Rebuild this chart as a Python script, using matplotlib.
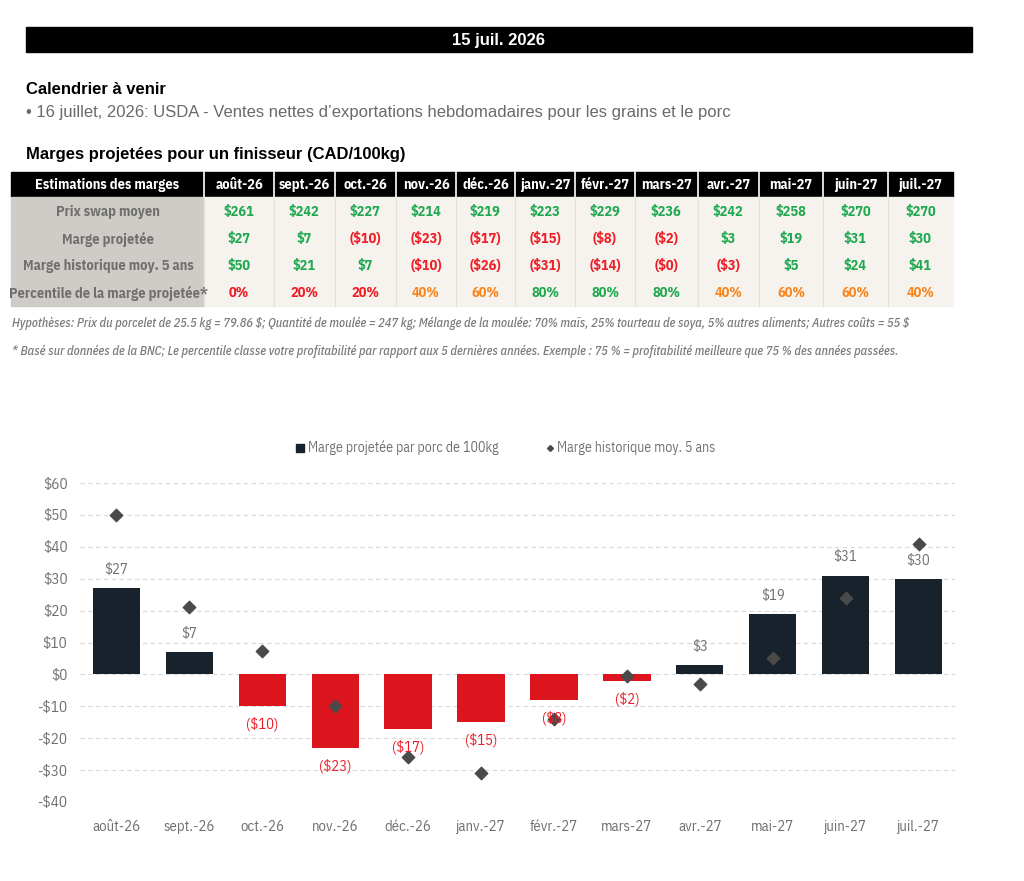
import matplotlib
matplotlib.use("Agg")
import matplotlib.pyplot as plt
from matplotlib.patches import Rectangle
import numpy as np

plt.rcParams["text.parse_math"] = False

# data
months = ["août-26", "sept.-26", "oct.-26", "nov.-26", "déc.-26", "janv.-27",
          "févr.-27", "mars-27", "avr.-27", "mai-27", "juin-27", "juil.-27"]
swap_price = [261, 242, 227, 214, 219, 223, 229, 236, 242, 258, 270, 270]
proj_margin = [27, 7, -10, -23, -17, -15, -8, -2, 3, 19, 31, 30]
hist_margin = [50, 21, 7.4, -10, -26, -31, -14, -0.4, -3, 5, 24, 41]
percentile = [0, 20, 20, 40, 60, 80, 80, 80, 40, 60, 60, 40]
row_labels = ["Prix swap moyen", "Marge projetée",
              "Marge historique moy. 5 ans", "Percentile de la marge projetée*"]

GREEN = "#1fa84f"
RED = "#ee1c25"
ORANGE = "#f7861e"
NAVY = "#17222d"
BARRED = "#dc141e"
GRAY = "#6f6f6f"

COND = ["IBM Plex Sans Condensed", "DejaVu Sans"]
SANS = ["Liberation Sans", "DejaVu Sans"]


def money(v):
    if v < 0:
        return "(${:.0f})".format(abs(v))
    return "${:.0f}".format(v)


def money_col(v):
    return RED if v < 0 else GREEN


def pct_col(p):
    if p <= 20:
        return RED
    if p <= 60:
        return ORANGE
    return GREEN


fig = plt.figure(figsize=(10.24, 8.81), dpi=100)
bg = fig.add_axes([0, 0, 1, 1])
bg.set_xlim(0, 1024)
bg.set_ylim(881, 0)
bg.axis("off")

# header bar
bg.add_patch(Rectangle((26, 27), 946, 25, color="black"))
bg.text(499, 40, "15 juil. 2026", color="white", fontsize=12, fontweight="bold",
        ha="center", va="center", family=SANS)

bg.text(26, 90, "Calendrier à venir", fontsize=12, fontweight="bold", va="center", family=SANS)
bg.text(26, 113, "• 16 juillet, 2026: USDA - Ventes nettes d’exportations hebdomadaires pour les grains et le porc",
        fontsize=12, color="#6a6a6a", va="center", family=SANS)
bg.text(26, 155, "Marges projetées pour un finisseur (CAD/100kg)", fontsize=12,
        fontweight="bold", va="center", family=SANS)

# table
edges = [11, 204, 274, 335, 396, 456, 515, 575, 635, 698, 759, 823, 888, 953]
bg.add_patch(Rectangle((11, 172), 942, 25, color="black"))
bg.add_patch(Rectangle((11, 197), 193, 109, color="#cfcbc7"))
bg.add_patch(Rectangle((204, 197), 749, 109, color="#f6f3ef"))
for e in edges[1:-1]:
    bg.plot([e, e], [172, 197], color="white", lw=1.2)
    bg.plot([e, e], [197, 306], color="#e4e0db", lw=0.8)

TS = 10.3
bg.text(107, 185, "Estimations des marges", color="white", fontsize=TS, fontweight="bold",
        ha="center", va="center", family=COND)
row_y = [212, 239, 266, 293]
for lab, y in zip(row_labels, row_y):
    bg.text(108, y, lab, color=GRAY, fontsize=TS, fontweight="bold",
            ha="center", va="center", family=COND)

for i, m in enumerate(months):
    cx = (edges[i + 1] + edges[i + 2]) / 2
    bg.text(cx, 185, m, color="white", fontsize=TS, fontweight="bold",
            ha="center", va="center", family=COND)
    vals = [(money(swap_price[i]), money_col(swap_price[i])),
            (money(proj_margin[i]), money_col(proj_margin[i])),
            (money(hist_margin[i]), money_col(hist_margin[i])),
            ("{}%".format(percentile[i]), pct_col(percentile[i]))]
    for (txt, col), y in zip(vals, row_y):
        bg.text(cx, y, txt, color=col, fontsize=TS, fontweight="bold",
                ha="center", va="center", family=COND)

bg.text(12, 323, "Hypothèses: Prix du porcelet de 25.5 kg = 79.86 $; Quantité de moulée = 247 kg; "
        "Mélange de la moulée: 70% maïs, 25% tourteau de soya, 5% autres aliments; Autres coûts = 55 $",
        fontsize=8.9, color="#7a7a7a", style="italic", fontweight=500, va="center", family=COND)
bg.text(12, 351, "* Basé sur données de la BNC; Le percentile classe votre profitabilité par rapport aux 5 "
        "dernières années. Exemple : 75 % = profitabilité meilleure que 75 % des années passées.",
        fontsize=8.9, color="#7a7a7a", style="italic", fontweight=500, va="center", family=COND)

# legend
bg.plot([300], [448], marker="s", color=NAVY, ms=6)
bg.text(308, 448, "Marge projetée par porc de 100kg", fontsize=10, color=GRAY, va="center", family=COND)
bg.plot([550], [448], marker="D", color="#4a4a4a", ms=3)
bg.text(557, 448, "Marge historique moy. 5 ans", fontsize=10, color=GRAY, va="center", family=COND)

# chart
ax = fig.add_axes([80 / 1024, 1 - 802 / 881, 875 / 1024, 319 / 881])
ax.patch.set_alpha(0)
x = np.arange(len(months))
cols = [NAVY if v >= 0 else BARRED for v in proj_margin]
ax.bar(x, proj_margin, width=0.65, color=cols, zorder=2)
ax.scatter(x, hist_margin, marker="D", s=40, color="#4a4a4a", zorder=3)
for xi, v in zip(x, proj_margin):
    if v >= 0:
        ax.annotate(money(v), (xi, v), xytext=(0, 8), textcoords="offset points",
                    ha="center", va="bottom", fontsize=10.5, color=GRAY, family=COND)
    else:
        ax.annotate(money(v), (xi, v), xytext=(0, -8), textcoords="offset points",
                    ha="center", va="top", fontsize=10.5, color=RED, family=COND)

ax.set_xlim(-0.5, len(months) - 0.5)
ax.set_ylim(-40, 60)
ax.set_yticks(np.arange(-40, 61, 10))
ax.set_yticklabels([("-$" + str(-t)) if t < 0 else ("$" + str(t)) for t in range(-40, 61, 10)],
                   family=COND, fontsize=11, color=GRAY)
ax.set_xticks(x)
ax.set_xticklabels(months, family=COND, fontsize=10.6, color=GRAY)
ax.tick_params(axis="y", length=0, pad=9)
ax.tick_params(axis="x", length=0, pad=13)
ax.yaxis.grid(True, color="#d9d9d9", linestyle=(0, (4, 3)), lw=0.8, zorder=0)
ax.set_axisbelow(True)
for s in ax.spines.values():
    s.set_visible(False)

fig.savefig("out.png", dpi=100)
